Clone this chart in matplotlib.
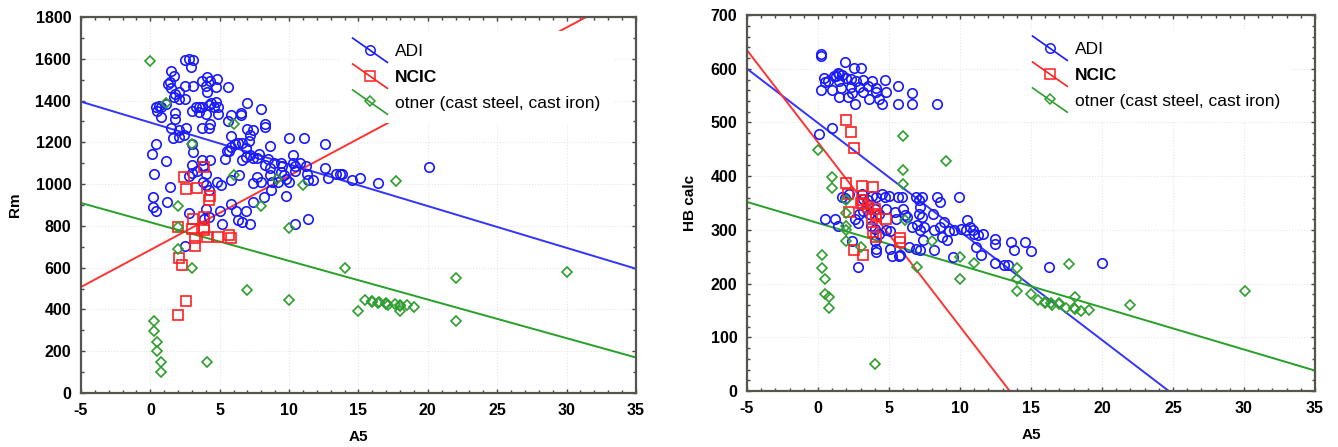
import matplotlib
matplotlib.use("Agg")
import matplotlib.pyplot as plt
from matplotlib.legend_handler import HandlerLine2D
from matplotlib.lines import Line2D
from matplotlib.ticker import MultipleLocator

plt.rcParams["font.family"] = ["Liberation Sans", "DejaVu Sans"]
plt.rcParams["axes.unicode_minus"] = False

# ---- Rm vs A5 ----
adi_rm_a5 = [2.5, 2.8, 3.1, 2.9, 1.5, 1.7, 1.4, 1.3, 1.5, 2.5, 3.1, 3.7, 4.1, 4.3, 4.8, 4.7,
             4.0, 4.1, 5.6, 1.8, 2.1, 2.1, 2.5, 1.7, 0.4, 0.6, 0.8, 0.5, 0.8, 1.1, 3.0, 3.3,
             3.5, 3.5, 3.7, 4.2, 4.6, 4.4, 4.7, 4.0, 4.3, 4.2, 3.7, 4.9, 4.9, 5.8, 6.5, 6.5,
             7.0, 8.0, 8.3, 8.3, 5.6, 1.8, 1.8, 1.5, 1.6, 2.1, 2.4, 2.6, 2.1, 3.0, 3.1, 0.4,
             0.1, 1.1, 3.0, 3.0, 2.8, 3.4, 3.7, 3.8, 4.0, 4.3, 3.8, 4.0, 4.0, 3.9, 4.2, 4.2,
             0.3, 0.2, 0.2, 0.4, 1.4, 1.2, 2.8, 2.5, 4.8, 5.1, 5.0, 5.2, 5.4, 5.5, 5.7, 5.8,
             5.8, 6.1, 6.3, 6.6, 6.9, 5.8, 5.8, 6.2, 6.3, 6.6, 6.9, 7.2, 6.6, 6.9, 7.0, 7.2,
             7.4, 7.1, 7.2, 7.4, 7.7, 7.4, 7.4, 8.0, 8.2, 8.6, 8.5, 8.3, 8.6, 8.9, 8.6, 8.8,
             8.7, 9.4, 9.5, 9.4, 9.2, 9.6, 9.8, 10.0, 9.8, 10.0, 10.3, 10.4, 10.4, 10.3, 11.1,
             10.8, 11.2, 11.3, 11.4, 10.4, 11.4, 11.7, 12.6, 12.6, 12.8, 13.4, 13.7, 13.8,
             14.5, 15.1, 16.4, 20.1, 7.8, 6.4, 7.7]
adi_rm = [1595, 1600, 1595, 1560, 1540, 1520, 1490, 1480, 1460, 1470, 1470, 1495, 1515, 1495,
          1505, 1465, 1470, 1440, 1465, 1430, 1440, 1410, 1410, 1415, 1370, 1375, 1370, 1350,
          1320, 1385, 1350, 1370, 1370, 1345, 1370, 1380, 1370, 1390, 1395, 1335, 1290, 1270,
          1270, 1335, 1370, 1330, 1340, 1330, 1390, 1360, 1290, 1275, 1300, 1340, 1310, 1270,
          1220, 1225, 1235, 1270, 1260, 1190, 1155, 1190, 1145, 1110, 1090, 1055, 1040, 1065,
          1115, 1085, 1050, 1115, 1010, 995, 880, 835, 845, 970, 1050, 940, 890, 870, 985, 915,
          860, 705, 1010, 995, 870, 810, 1120, 1160, 1160, 1230, 1180, 1190, 1195, 1195, 1175,
          1020, 905, 870, 830, 820, 870, 810, 1115, 1130, 1265, 1235, 1260, 1205, 1140, 1125,
          1125, 1005, 915, 1010, 940, 1185, 1120, 1090, 1075, 1100, 1045, 1010, 970, 1100, 1085,
          1060, 1010, 1045, 1025, 1010, 945, 1220, 1100, 1085, 1065, 1140, 1220, 1100, 1085,
          1050, 1020, 810, 835, 1020, 1190, 1075, 1030, 1050, 1050, 1050, 1020, 1030, 1005,
          1080, 1145, 1045, 1035]

ncic_rm_a5 = [3.9, 2.4, 2.6, 3.4, 3.1, 3.9, 3.0, 3.9, 3.9, 4.2, 4.3, 2.0, 3.2, 3.2, 4.1, 4.9,
              5.7, 5.8, 2.1, 2.3, 2.6, 2.0]
ncic_rm = [1080, 1035, 975, 980, 835, 845, 785, 790, 780, 925, 945, 795, 740, 705, 745, 745,
           755, 740, 645, 615, 440, 375]

other_rm_a5 = [0.0, 1.1, 3.0, 6.0, 6.0, 11.0, 10.0, 8.0, 2.0, 2.0, 2.0, 3.0, 7.0, 10.0, 14.0,
               15.0, 22.0, 22.0, 30.0, 17.7, 0.3, 0.3, 0.5, 0.5, 0.8, 0.8, 4.1, 9.1, 15.5,
               16.0, 16.5, 17.0, 17.1, 17.6, 18.0, 18.0, 18.5, 19.0, 16.0, 16.4, 17.0, 18.0]
other_rm = [1590, 1390, 1190, 1290, 1045, 995, 790, 895, 895, 795, 690, 600, 495, 445, 600,
            395, 550, 345, 580, 1015, 345, 295, 245, 200, 150, 100, 150, 1025, 445, 435, 435,
            425, 420, 425, 415, 395, 420, 410, 440, 430, 430, 420]

# fitted lines: (intercept, slope)
fit_rm = {"ADI": (1295, -20.0), "NCIC": (685, 35.5), "other": (817.5, -18.5)}

# ---- HB calc vs A5 ----
adi_hb_a5 = [0.2, 0.2, 1.9, 2.5, 3.0, 1.4, 1.5, 1.3, 1.7, 1.1, 0.4, 0.7, 0.5, 0.2, 1.0, 1.5,
             2.0, 2.3, 2.7, 3.2, 3.8, 4.7, 1.5, 2.1, 2.6, 3.6, 4.3, 4.5, 5.6, 6.6, 8.4, 1.6,
             2.3, 2.9, 3.5, 4.1, 4.8, 5.6, 6.6, 2.4, 3.2, 4.1, 0.1, 1.0, 0.5, 1.2, 1.4, 1.7,
             1.9, 2.2, 2.4, 2.8, 2.6, 2.8, 2.9, 3.1, 3.2, 3.5, 3.8, 4.1, 4.5, 4.7, 5.0, 5.6,
             5.9, 3.2, 3.6, 4.0, 4.3, 4.8, 3.7, 4.0, 4.3, 4.0, 4.1, 4.1, 4.8, 5.1, 5.1, 5.2,
             5.7, 5.8, 5.5, 5.4, 6.0, 6.1, 6.3, 6.4, 6.9, 6.6, 7.0, 7.2, 7.5, 7.3, 7.1, 7.2,
             7.1, 6.9, 7.3, 7.4, 7.2, 8.1, 8.4, 8.6, 8.2, 8.2, 8.6, 8.9, 8.7, 9.1, 9.2, 9.5,
             9.9, 9.6, 10.1, 10.4, 10.5, 10.7, 10.9, 11.0, 11.3, 11.6, 11.5, 11.1, 12.5, 12.5,
             12.5, 13.1, 13.4, 13.6, 13.8, 14.6, 15.0, 16.3, 20.0]
adi_hb = [628, 623, 613, 601, 601, 592, 590, 586, 588, 587, 583, 578, 575, 561, 561, 578, 583,
          581, 578, 579, 577, 579, 547, 547, 535, 544, 544, 534, 534, 534, 534, 565, 566, 566,
          567, 565, 557, 567, 555, 555, 557, 557, 479, 490, 320, 321, 307, 361, 360, 367, 279,
          231, 321, 313, 330, 367, 357, 355, 364, 361, 366, 361, 364, 361, 361, 336, 330, 339,
          330, 338, 308, 302, 293, 280, 265, 259, 299, 298, 265, 251, 251, 253, 321, 333, 339,
          327, 324, 268, 265, 305, 310, 299, 305, 324, 330, 343, 355, 361, 361, 282, 262, 330,
          361, 352, 263, 299, 305, 315, 287, 282, 298, 250, 361, 299, 302, 299, 318, 305, 299,
          293, 290, 293, 254, 268, 283, 274, 238, 234, 234, 277, 263, 277, 260, 231, 239]

ncic_hb_a5 = [2.0, 2.3, 2.5, 2.0, 3.1, 3.9, 2.2, 2.5, 3.2, 3.1, 3.2, 3.5, 4.0, 4.1, 4.1, 3.8,
              4.8, 3.9, 4.1, 5.8, 5.8, 2.1, 3.0]
ncic_hb = [505, 483, 453, 387, 382, 380, 333, 262, 253, 355, 349, 343, 338, 330, 325, 321,
           321, 296, 287, 285, 277, 367, 350]

other_hb_a5 = [0.0, 1.0, 1.0, 0.3, 0.3, 0.5, 0.5, 0.8, 0.8, 2.0, 2.0, 2.0, 2.0, 2.0, 3.0, 4.0,
               6.0, 6.0, 6.0, 9.0, 6.1, 7.0, 8.0, 10.0, 10.0, 11.0, 14.0, 14.0, 14.0, 15.0,
               15.5, 16.0, 16.5, 17.0, 17.5, 18.1, 18.5, 19.1, 16.0, 16.4, 17.0, 18.0, 17.7,
               18.1, 22.0, 30.1]
other_hb = [448, 398, 378, 254, 229, 209, 180, 175, 155, 355, 331, 307, 299, 279, 268, 50, 475,
            412, 386, 428, 318, 231, 280, 250, 209, 238, 229, 209, 187, 180, 169, 164, 160, 162,
            155, 153, 149, 151, 165, 163, 163, 155, 237, 175, 160, 186]

fit_hb = {"ADI": (499, -20.2), "NCIC": (463, -34.3), "other": (312.75, -7.85)}

labels = ["ADI", "NCIC", "otner (cast steel, cast iron)"]

blue, red, green = "#1a1aff", "#ff2020", "#2e9e2e"
styles = [
    dict(color=blue, marker="o", ms=6.8, line="#3333ff"),
    dict(color=red, marker="s", ms=6.5, line="#ff3333"),
    dict(color=green, marker="D", ms=4.8, line="#26a026"),
]


class SlantHandler(HandlerLine2D):
    # diagonal line through the marker, as in the legend of the source software
    def create_artists(self, legend, orig_handle, xdescent, ydescent,
                       width, height, fontsize, trans):
        x0, x1 = -xdescent, -xdescent + width
        ln = Line2D([x0, x1], [height * 1.45, -height * 0.55],
                    color=orig_handle.get_color(), lw=1.2, transform=trans)
        mk = Line2D([(x0 + x1) / 2], [height / 2], ls="none",
                    marker=orig_handle.get_marker(), ms=orig_handle.get_markersize(),
                    mfc="none", mec=orig_handle.get_color(), mew=1.1, transform=trans)
        return [ln, mk]


def draw_panel(ax, series, fits, ylim, ymajor, yminor, ylabel, leg_anchor):
    xs = [-5, 35]
    handles = []
    for (x, y), key, st in zip(series, ["ADI", "NCIC", "other"], styles):
        ax.plot(x, y, ls="none", marker=st["marker"], ms=st["ms"], mfc="none",
                mec=st["color"], mew=1.2, zorder=3)
        b, m = fits[key]
        ax.plot(xs, [b + m * v for v in xs], color=st["line"], lw=1.4, zorder=2)
        handles.append(Line2D([], [], color=st["color"], marker=st["marker"], ms=st["ms"]))

    ax.set_xlim(-5, 35)
    ax.set_ylim(*ylim)
    ax.xaxis.set_major_locator(MultipleLocator(5))
    ax.xaxis.set_minor_locator(MultipleLocator(1))
    ax.yaxis.set_major_locator(MultipleLocator(ymajor))
    ax.yaxis.set_minor_locator(MultipleLocator(yminor))
    ax.tick_params(which="both", direction="in", top=True, right=True,
                   color="#444444", labelsize=11.5)
    ax.tick_params(which="major", length=3, width=1, pad=7)
    ax.tick_params(which="minor", length=2, width=1)
    for t in ax.get_xticklabels() + ax.get_yticklabels():
        t.set_fontweight("bold")
    ax.grid(True, which="major", color="#e6e6e6", lw=0.8, ls=":")
    ax.set_axisbelow(True)
    for sp in ax.spines.values():
        sp.set_color("#555550")
        sp.set_linewidth(1.6)
    ax.set_xlabel("A5", fontsize=11, fontweight="bold", labelpad=9)
    ax.set_ylabel(ylabel, fontsize=11, fontweight="bold", labelpad=10)

    leg = ax.legend(handles, labels, loc="upper left", bbox_to_anchor=leg_anchor,
                    fontsize=12.5, handlelength=2.0, handletextpad=0.45,
                    labelspacing=0.62, borderpad=0.7, frameon=True,
                    facecolor="white", edgecolor="none", framealpha=1,
                    handler_map={Line2D: SlantHandler()})
    leg.get_texts()[1].set_fontweight("bold")
    leg.set_zorder(5)


fig = plt.figure(figsize=(13.38, 4.47), dpi=100)
ax1 = fig.add_axes([0.0605, 0.1208, 0.4148, 0.841])
ax2 = fig.add_axes([0.5583, 0.1253, 0.4245, 0.841])

draw_panel(ax1,
           [(adi_rm_a5, adi_rm), (ncic_rm_a5, ncic_rm), (other_rm_a5, other_rm)],
           fit_rm, (0, 1800), 200, 100, "Rm", (0.452, 0.985))
draw_panel(ax2,
           [(adi_hb_a5, adi_hb), (ncic_hb_a5, ncic_hb), (other_hb_a5, other_hb)],
           fit_hb, (0, 700), 100, 20, "HB calc", (0.466, 0.985))

fig.savefig("out.png", dpi=100)
